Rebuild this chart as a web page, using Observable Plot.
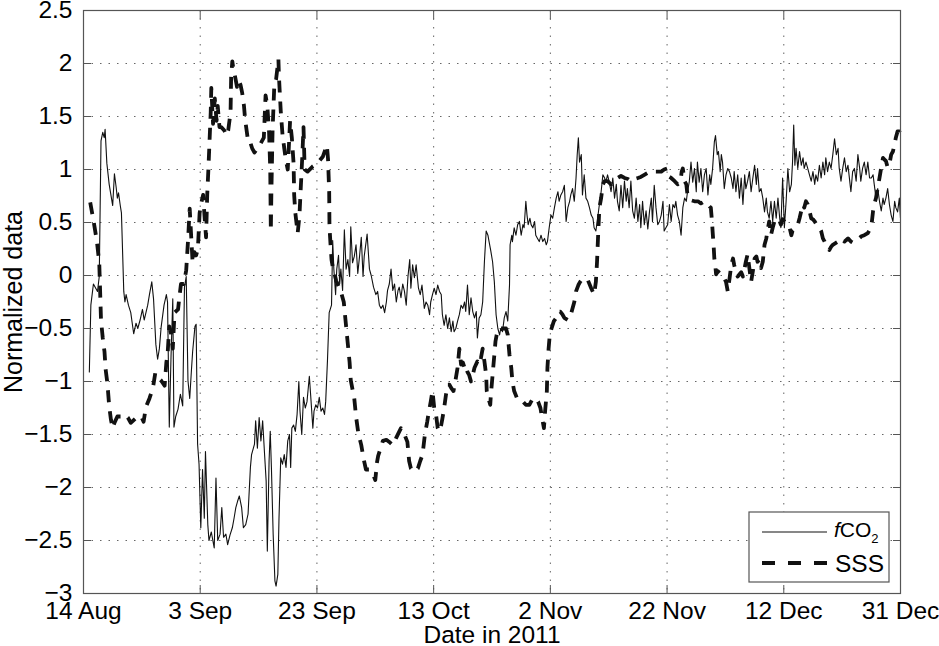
<!DOCTYPE html>
<html>
<head>
<meta charset="utf-8">
<script src="https://cdn.jsdelivr.net/npm/d3@7"></script>
<script src="https://cdn.jsdelivr.net/npm/@observablehq/plot@0.6"></script>
<style>
  html, body { margin: 0; padding: 0; background: #fff; }
</style>
</head>
<body>
<div id="chart"></div>
<script>
// x: days since 14 Aug 2011
const xTickDays = [0, 20, 40, 60, 80, 100, 120, 140];
const xTickLabels = ["14 Aug", "3 Sep", "23 Sep", "13 Oct", "2 Nov", "22 Nov", "12 Dec", "31 Dec"];
const yTicks = [-3, -2.5, -2, -1.5, -1, -0.5, 0, 0.5, 1, 1.5, 2, 2.5];
const yTickLabels = ["\u22123", "\u22122.5", "\u22122", "\u22121.5", "\u22121", "\u22120.5", "0", "0.5", "1", "1.5", "2", "2.5"];
const seriesNames = ["fCO2", "SSS"];
const xLabel = "Date in 2011";
const yLabel = "Normalized data";

// fCO2 (normalized) : [day, value]
const fco2 = [
[1.0,-0.91],[1.26,-0.28],[1.7,-0.08],[2.4,-0.15],[2.7,-0.01],[3.0,1.27],[3.3,1.35],[3.55,1.30],[3.7,1.38],[4.0,1.06],
[4.4,0.86],[5.0,0.66],[5.3,0.96],[5.6,0.83],[5.8,0.73],[6.0,0.78],[6.3,0.66],[6.5,0.59],[6.9,-0.15],[7.1,-0.25],
[7.3,-0.18],[7.7,-0.28],[8.1,-0.35],[8.6,-0.55],[9.0,-0.45],[9.3,-0.50],[9.7,-0.42],[10.1,-0.32],[10.4,-0.42],[10.7,-0.35],
[11.0,-0.28],[11.3,-0.18],[11.7,-0.06],[12.0,-0.22],[12.4,-0.65],[12.7,-0.79],[13.0,-0.69],[13.3,-0.49],[13.8,-0.28],[14.2,-0.18],
[14.4,-0.25],[14.7,-1.43],[15.0,-0.76],[15.3,-0.22],[15.5,-1.43],[15.8,-1.33],[16.2,-1.26],[16.6,-1.12],[17.0,-1.23],[17.3,-0.11],
[17.6,-0.01],[17.9,-0.99],[18.2,-1.16],[18.5,-0.89],[18.7,-0.72],[19.1,-0.48],[19.3,-0.46],[19.55,-1.59],[19.8,-1.78],[20.1,-2.38],
[20.4,-1.83],[20.7,-2.29],[20.9,-1.66],[21.3,-2.35],[21.5,-2.50],[21.9,-2.42],[22.4,-2.57],[22.7,-1.91],[23.0,-2.50],[23.4,-2.44],
[23.7,-2.19],[24.0,-2.47],[24.4,-2.44],[24.7,-2.54],[25.1,-2.45],[25.5,-2.38],[25.8,-2.29],[26.1,-2.19],[26.4,-2.13],[26.7,-2.08],
[27.1,-2.19],[27.4,-2.38],[27.8,-2.35],[28.2,-2.25],[28.6,-1.81],[28.8,-1.69],[29.3,-1.59],[29.5,-1.37],[29.8,-1.63],[30.1,-1.34],
[30.4,-1.56],[30.7,-1.37],[31.0,-1.66],[31.3,-1.94],[31.5,-2.60],[31.8,-1.75],[32.0,-1.47],[32.2,-1.81],[32.5,-2.44],[32.8,-2.88],
[33.0,-2.93],[33.3,-2.82],[33.5,-2.29],[33.8,-1.72],[34.1,-1.78],[34.4,-1.69],[34.7,-1.81],[35.0,-1.56],[35.3,-1.50],[35.5,-1.81],
[35.7,-1.44],[36.0,-1.41],[36.3,-1.47],[36.6,-1.31],[36.9,-1.00],[37.1,-1.28],[37.4,-1.50],[37.7,-1.15],[38.0,-1.25],[38.3,-1.19],
[38.7,-0.95],[39.0,-1.19],[39.3,-1.44],[39.5,-1.28],[39.8,-1.22],[40.1,-1.25],[40.4,-1.15],[40.7,-1.28],[41.0,-1.25],[41.3,-1.31],
[41.5,-1.19],[41.8,-0.81],[42.1,-0.35],[42.5,-0.28],[42.7,0.33],[42.9,0.06],[43.2,-0.18],[43.4,0.06],[43.7,0.19],[43.9,-0.08],
[44.1,0.06],[44.4,-0.14],[44.7,0.43],[45.0,0.06],[45.3,0.15],[45.6,-0.01],[45.8,0.46],[46.1,0.12],[46.4,0.18],[46.7,0.29],
[47.0,0.02],[47.3,0.18],[47.6,0.36],[47.9,-0.01],[48.1,0.18],[48.6,0.39],[49.0,0.06],[49.3,0.00],[49.7,-0.11],[50.1,-0.18],
[50.4,-0.15],[50.7,-0.28],[51.0,-0.31],[51.3,-0.28],[51.6,-0.35],[51.9,-0.25],[52.1,-0.14],[52.4,-0.08],[52.7,0.06],[53.0,-0.14],
[53.3,-0.08],[53.6,-0.25],[53.9,-0.14],[54.1,-0.11],[54.4,-0.21],[54.7,-0.08],[55.0,-0.15],[55.3,-0.28],[55.6,-0.01],[55.9,0.15],
[56.1,-0.12],[56.4,0.10],[56.7,-0.02],[57.0,0.10],[57.4,-0.12],[57.7,-0.18],[58.0,-0.09],[58.4,-0.31],[58.7,-0.25],[59.0,-0.28],
[59.3,-0.37],[59.5,-0.25],[59.8,-0.18],[60.1,-0.12],[60.4,-0.18],[60.7,-0.09],[61.0,-0.15],[61.3,-0.18],[61.5,-0.37],[61.8,-0.47],
[62.1,-0.37],[62.4,-0.50],[62.7,-0.40],[63.0,-0.53],[63.3,-0.43],[63.5,-0.53],[63.8,-0.50],[64.1,-0.43],[64.4,-0.37],[64.7,-0.28],
[65.0,-0.31],[65.3,-0.25],[65.5,-0.34],[65.8,-0.09],[66.1,-0.37],[66.4,-0.21],[66.7,-0.34],[67.0,-0.40],[67.3,-0.34],[67.5,-0.59],
[67.8,-0.40],[68.1,-0.37],[68.4,-0.25],[68.7,0.13],[69.0,0.42],[69.3,0.38],[69.5,0.32],[69.8,0.23],[70.1,0.13],[70.4,-0.06],
[70.7,-0.37],[71.0,-0.50],[71.3,-0.56],[71.5,-0.50],[71.8,-0.53],[72.1,-0.40],[72.4,-0.34],[72.7,-0.43],[73.0,-0.09],[73.1,0.29],
[73.4,0.38],[73.5,0.32],[73.8,0.45],[74.1,0.38],[74.4,0.48],[74.7,0.51],[75.0,0.38],[75.3,0.48],[75.5,0.45],[75.8,0.70],
[76.0,0.57],[76.2,0.48],[76.5,0.54],[76.7,0.48],[77.0,0.45],[77.3,0.51],[77.5,0.38],[77.8,0.35],[78.1,0.32],[78.4,0.38],
[78.7,0.32],[79.0,0.35],[79.3,0.29],[79.5,0.32],[79.8,0.45],[80.1,0.57],[80.4,0.54],[80.7,0.64],[81.0,0.73],[81.3,0.79],
[81.5,0.70],[81.8,0.76],[82.1,0.79],[82.4,0.85],[82.7,0.51],[83.0,0.64],[83.3,0.70],[83.5,0.76],[83.8,0.82],[84.1,0.70],
[84.4,0.92],[84.6,1.14],[84.8,1.30],[85.0,1.07],[85.3,1.14],[85.5,0.76],[85.8,0.95],[86.1,0.73],[86.4,0.70],[86.7,0.64],
[87.0,0.57],[87.3,0.54],[87.5,0.45],[87.8,0.42],[88.1,0.54],[88.4,0.67],[88.7,0.79],[89.0,0.95],[89.3,0.92],[89.5,0.88],
[89.8,0.95],[90.1,0.88],[90.4,0.79],[90.7,0.92],[91.0,0.73],[91.3,0.86],[91.5,0.70],[91.8,0.61],[92.1,0.85],[92.4,0.64],
[92.7,0.89],[93.0,0.70],[93.2,0.82],[93.5,0.64],[93.8,0.89],[94.1,0.61],[94.4,0.54],[94.7,0.73],[95.0,0.51],[95.3,0.67],
[95.5,0.45],[95.8,0.70],[96.1,0.48],[96.4,0.61],[96.7,0.44],[97.0,0.61],[97.3,0.73],[97.5,0.51],[97.8,0.85],[98.1,0.64],
[98.4,0.48],[98.7,0.51],[99.0,0.57],[99.3,0.70],[99.5,0.42],[99.8,0.45],[100.1,0.48],[100.4,0.67],[100.7,0.51],[101.0,0.67],
[101.3,0.64],[101.5,0.70],[101.8,0.57],[102.1,0.51],[102.4,0.38],[102.7,0.64],[103.0,0.73],[103.3,0.70],[103.5,0.79],[103.8,0.88],
[104.1,1.07],[104.4,0.88],[104.7,1.01],[105.0,0.79],[105.2,1.07],[105.5,0.88],[105.8,1.01],[106.1,0.79],[106.4,0.95],[106.7,1.01],
[107.0,0.76],[107.3,0.95],[107.5,0.86],[107.8,1.01],[108.1,1.26],[108.3,1.32],[108.6,1.14],[108.8,1.17],[109.1,0.98],[109.3,1.14],
[109.5,1.07],[109.8,0.82],[110.1,0.95],[110.4,1.01],[110.7,0.98],[111.0,0.92],[111.3,0.82],[111.5,0.98],[111.8,0.79],[112.1,0.95],
[112.4,0.73],[112.7,0.92],[113.0,0.67],[113.3,0.95],[113.5,0.82],[113.8,0.89],[114.1,0.98],[114.4,0.79],[114.7,0.92],[115.0,1.04],
[115.3,0.86],[115.5,1.01],[115.8,0.79],[116.1,0.82],[116.4,0.73],[116.7,0.60],[117.0,0.73],[117.2,0.60],[117.5,0.54],[117.8,0.70],
[118.1,0.51],[118.4,0.70],[118.7,0.54],[119.0,0.73],[119.3,0.54],[119.5,0.45],[119.8,0.92],[120.1,0.45],[120.4,0.70],[120.7,1.01],
[121.0,0.79],[121.3,0.86],[121.5,1.07],[121.7,1.42],[121.9,1.04],[122.1,1.20],[122.4,1.01],[122.7,1.17],[123.0,1.04],[123.3,1.11],
[123.5,1.01],[123.8,1.07],[124.1,1.01],[124.4,0.95],[124.7,0.89],[125.0,0.98],[125.3,0.86],[125.5,0.95],[125.8,0.89],[126.1,1.04],
[126.4,0.92],[126.7,1.07],[127.0,0.95],[127.2,1.11],[127.5,0.98],[127.8,1.07],[128.1,1.01],[128.4,1.14],[128.7,1.29],[129.0,1.14],
[129.3,1.20],[129.5,1.01],[129.8,0.89],[130.1,1.01],[130.4,1.11],[130.7,0.98],[131.0,1.04],[131.3,0.89],[131.5,0.79],[131.8,0.98],
[132.1,1.01],[132.4,0.89],[132.7,1.14],[133.0,1.01],[133.2,0.89],[133.5,1.01],[133.8,1.07],[134.1,0.95],[134.4,1.07],[134.7,0.92],
[135.0,0.92],[135.3,0.95],[135.5,0.86],[135.8,0.73],[136.1,0.82],[136.4,0.70],[136.7,0.61],[137.0,0.73],[137.2,0.67],[137.5,0.73],
[137.8,0.82],[138.1,0.67],[138.4,0.57],[138.7,0.51],[139.0,0.70],[139.2,0.64],[139.5,0.60],[139.8,0.73],[140.0,0.54]
];

// SSS (normalized) : [day, value]
const sss = [
[1.15,0.69],[1.8,0.49],[2.3,0.32],[2.7,0.12],[3.0,-0.42],[3.3,-0.59],[3.6,-0.72],[3.8,-0.89],[4.1,-1.02],[4.4,-1.23],
[4.7,-1.36],[5.0,-1.44],[5.3,-1.39],[5.8,-1.33],[6.4,-1.33],[7.0,-1.31],[7.6,-1.34],[8.1,-1.39],[8.7,-1.36],[9.3,-1.33],
[9.9,-1.33],[10.3,-1.38],[10.7,-1.24],[11.3,-1.16],[11.9,-1.06],[12.3,-0.92],[12.7,-0.96],[13.3,-0.99],[13.9,-1.04],[14.2,-0.82],
[14.4,-0.75],[14.7,-0.48],[15.0,-0.55],[15.3,-0.69],[15.6,-0.35],[16.2,-0.32],[16.4,-0.22],[16.7,-0.08],[17.2,-0.08],[17.6,0.05],
[17.9,0.32],[18.2,0.63],[18.5,0.32],[18.7,0.12],[19.0,0.22],[19.3,0.19],[19.6,0.25],[19.9,0.59],[20.2,0.69],[20.5,0.76],
[20.7,0.59],[21.0,0.36],[21.2,0.76],[21.4,1.00],[21.6,1.27],[21.8,1.54],[21.9,1.77],[22.2,1.43],[22.5,1.67],[22.8,1.46],
[23.0,1.60],[23.3,1.40],[23.6,1.40],[24.1,1.37],[24.5,1.32],[24.8,1.37],[25.2,1.54],[25.3,1.87],[25.5,2.02],[25.7,1.94],
[26.0,1.87],[26.3,1.78],[26.6,1.84],[26.9,1.80],[27.2,1.72],[27.5,1.60],[27.7,1.47],[28.2,1.27],[28.5,1.27],[28.9,1.20],
[29.3,1.16],[29.8,1.20],[30.3,1.24],[30.9,1.30],[31.2,1.70],[31.5,1.60],[31.8,1.35],[32.0,1.00],[32.1,0.42],[32.2,0.80],
[32.4,1.37],[32.7,1.80],[33.0,1.85],[33.4,2.04],[33.5,1.87],[33.8,1.55],[34.1,1.33],[34.4,1.20],[34.7,1.08],[35.0,1.00],
[35.4,1.46],[35.7,1.30],[36.0,1.06],[36.1,0.76],[36.3,0.59],[36.7,0.40],[37.0,0.56],[37.2,0.79],[37.5,1.13],[37.7,1.40],
[37.9,1.00],[38.4,0.98],[39.3,1.03],[40.1,1.06],[41.0,1.12],[41.7,1.23],[41.9,1.10],[42.1,0.79],[42.15,0.46],[42.3,0.32],
[42.5,0.15],[42.8,0.05],[43.0,0.02],[43.3,-0.05],[44.1,-0.15],[44.6,-0.25],[45.0,-0.48],[45.3,-0.65],[45.6,-0.82],[45.8,-0.99],
[46.4,-1.16],[46.7,-1.33],[47.1,-1.49],[47.6,-1.60],[48.0,-1.73],[48.4,-1.83],[49.0,-1.83],[49.6,-1.87],[50.0,-1.93],[50.3,-1.76],
[50.5,-1.70],[50.9,-1.63],[51.3,-1.56],[51.9,-1.55],[52.4,-1.57],[53.0,-1.60],[53.6,-1.53],[54.4,-1.44],[55.0,-1.50],[55.5,-1.57],
[55.8,-1.75],[56.1,-1.82],[56.7,-1.85],[57.3,-1.82],[57.7,-1.75],[58.1,-1.69],[58.5,-1.50],[58.9,-1.38],[59.1,-1.31],[59.3,-1.25],
[59.5,-1.19],[59.8,-1.09],[60.1,-1.25],[60.4,-1.31],[60.7,-1.44],[61.0,-1.47],[61.3,-1.41],[61.5,-1.35],[61.8,-1.25],[62.1,-1.13],
[62.4,-1.03],[62.7,-1.03],[63.0,-1.06],[63.4,-1.09],[63.8,-0.97],[64.1,-0.87],[64.4,-0.69],[64.7,-0.84],[65.0,-0.82],[65.3,-0.87],
[65.5,-0.85],[65.8,-0.91],[66.1,-0.94],[66.4,-1.00],[66.7,-0.94],[67.0,-0.87],[67.5,-0.81],[67.8,-0.84],[68.1,-0.78],[68.4,-0.69],
[68.7,-0.81],[69.0,-0.94],[69.1,-1.09],[69.4,-1.16],[69.7,-1.22],[69.8,-1.13],[70.1,-0.94],[70.4,-0.75],[70.6,-0.62],[70.8,-0.56],
[71.1,-0.50],[72.4,-0.50],[72.7,-0.56],[73.0,-0.75],[73.3,-0.87],[73.5,-1.00],[73.8,-1.09],[74.3,-1.16],[74.7,-1.16],[75.3,-1.19],
[75.8,-1.22],[76.4,-1.22],[77.0,-1.16],[77.5,-1.16],[77.9,-1.19],[78.3,-1.25],[78.6,-1.35],[78.9,-1.44],[79.1,-1.28],[79.4,-1.09],
[79.5,-0.87],[79.7,-0.69],[79.9,-0.56],[80.2,-0.50],[80.6,-0.43],[81.0,-0.40],[81.4,-0.34],[81.7,-0.34],[82.1,-0.37],[82.4,-0.40],
[83.0,-0.42],[83.5,-0.37],[84.1,-0.25],[84.4,-0.15],[84.8,-0.09],[85.1,-0.06],[85.5,-0.03],[86.4,-0.04],[87.0,-0.12],[87.5,-0.18],
[87.8,-0.06],[88.0,0.13],[88.2,0.40],[88.4,0.64],[88.7,0.73],[89.0,0.86],[89.3,0.89],[89.8,0.89],[90.4,0.86],[91.0,0.89],
[91.5,0.92],[92.1,0.94],[92.7,0.92],[93.3,0.91],[93.8,0.89],[94.4,0.91],[95.0,0.92],[95.5,0.93],[96.1,0.95],[96.7,0.97],
[97.3,0.97],[97.8,0.98],[98.4,0.98],[99.0,0.98],[99.5,1.00],[100.0,1.01],[100.4,0.93],[100.7,0.92],[101.3,0.89],[101.8,0.86],
[102.3,0.88],[102.5,0.98],[102.7,1.01],[103.0,0.89],[103.3,0.86],[103.5,0.76],[103.8,0.73],[104.1,0.71],[104.7,0.70],[105.3,0.70],
[105.8,0.68],[106.4,0.70],[107.0,0.67],[107.3,0.65],[107.5,0.64],[107.7,0.51],[107.8,0.42],[108.0,0.26],[108.1,0.16],[108.3,0.07],
[108.4,0.01],[108.7,0.04],[109.1,0.02],[109.5,0.01],[110.1,-0.06],[110.4,-0.15],[110.7,-0.03],[111.0,0.10],[111.3,0.16],[111.5,0.10],
[111.8,0.03],[112.1,-0.01],[112.7,0.03],[113.0,-0.01],[113.5,0.13],[113.8,0.20],[114.1,0.07],[114.4,-0.06],[114.7,0.04],[115.0,0.16],
[115.3,0.18],[115.5,0.13],[115.8,0.15],[116.1,0.07],[116.4,0.13],[116.7,0.29],[117.0,0.35],[117.3,0.45],[117.5,0.51],[117.8,0.38],
[118.1,0.45],[118.4,0.51],[118.7,0.54],[119.3,0.51],[119.5,0.48],[119.8,0.53],[120.1,0.51],[120.4,0.48],[121.0,0.45],[121.3,0.38],
[121.5,0.42],[122.1,0.45],[122.4,0.48],[122.7,0.54],[123.0,0.61],[123.3,0.67],[123.5,0.64],[123.8,0.70],[124.1,0.67],[124.4,0.61],
[124.7,0.54],[125.0,0.53],[125.3,0.51],[125.5,0.49],[125.8,0.46],[126.1,0.45],[126.4,0.42],[126.7,0.35],[127.0,0.32],[127.2,0.29],
[127.5,0.26],[127.8,0.24],[128.1,0.27],[128.4,0.29],[129.0,0.31],[129.3,0.32],[129.8,0.35],[130.4,0.32],[131.0,0.35],[131.5,0.32],
[131.8,0.31],[132.7,0.34],[133.3,0.37],[133.8,0.38],[134.4,0.40],[134.9,0.45],[135.1,0.51],[135.3,0.61],[135.5,0.67],[135.8,0.73],
[136.1,0.83],[136.4,0.92],[136.7,1.02],[137.0,1.11],[137.3,1.09],[137.5,1.08],[137.8,1.02],[138.1,1.05],[138.4,1.14],[138.7,1.17],
[139.0,1.24],[139.2,1.30],[139.5,1.36],[139.8,1.36],[140.0,1.33]
];

const FONT = "'Liberation Sans', Arial, Helvetica, sans-serif";
const gridStyle = {stroke: "#333", strokeOpacity: 0.75, strokeWidth: 1, strokeDasharray: "1.5,7"};

const chart = Plot.plot({
  width: 939,
  height: 646,
  marginLeft: 83,
  marginRight: 39,
  marginTop: 10,
  marginBottom: 53,
  style: {fontFamily: FONT, fontSize: "24px", color: "#000", background: "#fff"},
  x: {domain: [0, 140]},
  y: {domain: [-3, 2.5]},
  marks: [
    Plot.gridX(xTickDays, gridStyle),
    Plot.gridY(yTicks, gridStyle),
    Plot.line(fco2, {x: d => d[0], y: d => d[1], stroke: "#111", strokeWidth: 1.1, strokeLinejoin: "round"}),
    Plot.line(sss, {x: d => d[0], y: d => d[1], stroke: "#111", strokeWidth: 3.8, strokeDasharray: "12,9", strokeLinecap: "butt"}),
    Plot.frame({stroke: "#555", strokeWidth: 1.2}),
    Plot.axisX(xTickDays, {anchor: "bottom", tickSize: 0, tickPadding: 8, fontSize: 24.5, label: null,
      tickFormat: d => xTickLabels[xTickDays.indexOf(d)]}),
    Plot.axisX(xTickDays, {anchor: "bottom", tickSize: -8, stroke: "#555", tickFormat: () => "", label: null}),
    Plot.axisX(xTickDays, {anchor: "top", tickSize: -8, stroke: "#555", tickFormat: () => "", label: null}),
    Plot.axisY(yTicks, {anchor: "left", tickSize: 0, tickPadding: 11, fontSize: 24.5, label: null,
      tickFormat: d => yTickLabels[yTicks.indexOf(d)]}),
    Plot.axisY(yTicks, {anchor: "left", tickSize: -8, stroke: "#555", tickFormat: () => "", label: null}),
    Plot.axisY(yTicks, {anchor: "right", tickSize: -8, stroke: "#555", tickFormat: () => "", label: null}),
    Plot.text([xLabel], {frameAnchor: "bottom", dy: 49, textAnchor: "middle", lineAnchor: "bottom", fontSize: 24.5, fill: "#000"}),
    Plot.text([yLabel], {frameAnchor: "left", dx: -62, rotate: -90, textAnchor: "middle", lineAnchor: "bottom", fontSize: 25, fill: "#000"})
  ]
});

document.getElementById("chart").appendChild(chart);

// Legend (box in the lower right of the axes)
const svg = d3.select(chart);
const lg = svg.append("g").attr("font-family", FONT).attr("text-anchor", "start");
lg.append("rect").attr("x", 749).attr("y", 512).attr("width", 140).attr("height", 70)
  .attr("fill", "#fff").attr("stroke", "#555").attr("stroke-width", 1.2);
lg.append("line").attr("x1", 762).attr("x2", 827).attr("y1", 532).attr("y2", 532)
  .attr("stroke", "#111").attr("stroke-width", 1.1);
lg.append("line").attr("x1", 762).attr("x2", 827).attr("y1", 563).attr("y2", 563)
  .attr("stroke", "#111").attr("stroke-width", 3.8).attr("stroke-dasharray", "13,13");
const t1 = lg.append("text").attr("x", 834).attr("y", 537).attr("font-size", 21)
  .attr("text-anchor", "start").attr("fill", "#000");
t1.append("tspan").attr("font-style", "italic").text("f");
t1.append("tspan").text("CO");
t1.append("tspan").attr("font-size", 13).attr("dy", 6).text("2");
lg.append("text").attr("x", 835).attr("y", 572).attr("font-size", 24.5)
  .attr("text-anchor", "start").attr("fill", "#000").text(seriesNames[1]);
</script>
</body>
</html>
